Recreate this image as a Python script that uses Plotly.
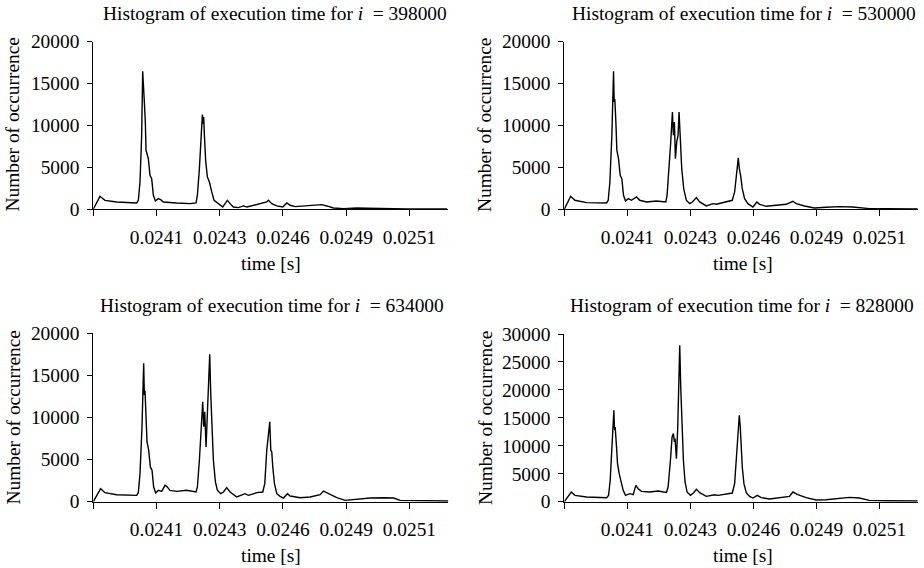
import plotly.graph_objects as go

# ---------------- data (time in seconds, counts) ----------------
t_398000 = [0.0238200, 0.0238474, 0.0238680, 0.0239160, 0.0239984, 0.0240052, 0.0240121, 0.0240189, 0.0240231, 0.0240272,
            0.0240299, 0.0240340, 0.0240368, 0.0240464, 0.0240532, 0.0240601, 0.0240670, 0.0240752, 0.0240875, 0.0240971,
            0.0241081, 0.0241630, 0.0242179, 0.0242426, 0.0242481, 0.0242563, 0.0242632, 0.0242686, 0.0242714, 0.0242741,
            0.0242769, 0.0242824, 0.0242892, 0.0242975, 0.0243071, 0.0243167, 0.0243345, 0.0243523, 0.0243619, 0.0243715,
            0.0243825, 0.0243962, 0.0244168, 0.0244374, 0.0244511, 0.0244786, 0.0245060, 0.0245334, 0.0245403, 0.0245540,
            0.0245746, 0.0245993, 0.0246158, 0.0246295, 0.0246501, 0.0246844, 0.0247255, 0.0247598, 0.0247804, 0.0248078,
            0.0248490, 0.0249039, 0.0249450, 0.0249999, 0.0251097, 0.0252743]
n_398000 = [0, 1550, 1070, 875, 756, 1070, 3260, 8830, 16470, 13210,
            12810, 10420, 7040, 6050, 4060, 3660, 1670, 995, 1270, 1150,
            875, 756, 676, 756, 1670, 4850, 8830, 11300, 10220, 11020,
            8830, 5650, 3860, 3260, 2070, 1070, 676, 278, 676, 1070,
            676, 278, 200, 400, 278, 477, 597, 875, 1070, 676,
            400, 278, 756, 477, 318, 400, 477, 557, 400, 160,
            80, 160, 120, 80, 40, 40]

t_530000 = [0.0238200, 0.0238323, 0.0238461, 0.0238639, 0.0239119, 0.0239942, 0.0240011, 0.0240080, 0.0240162, 0.0240231,
            0.0240258, 0.0240285, 0.0240327, 0.0240368, 0.0240436, 0.0240505, 0.0240574, 0.0240642, 0.0240724, 0.0240834,
            0.0240971, 0.0241177, 0.0241314, 0.0241589, 0.0242000, 0.0242385, 0.0242439, 0.0242522, 0.0242590, 0.0242659,
            0.0242700, 0.0242741, 0.0242782, 0.0242837, 0.0242892, 0.0242933, 0.0242975, 0.0243043, 0.0243125, 0.0243235,
            0.0243372, 0.0243482, 0.0243647, 0.0243784, 0.0244058, 0.0244333, 0.0244470, 0.0244882, 0.0245129, 0.0245225,
            0.0245293, 0.0245376, 0.0245417, 0.0245472, 0.0245540, 0.0245636, 0.0245773, 0.0245979, 0.0246144, 0.0246254,
            0.0246528, 0.0246940, 0.0247351, 0.0247626, 0.0247763, 0.0248106, 0.0248517, 0.0248998, 0.0249546, 0.0250095,
            0.0250507, 0.0250781, 0.0251467, 0.0252771]
n_530000 = [0, 676, 1551, 1074, 796, 756, 1074, 3262, 8831, 16469,
            12809, 13127, 10422, 7041, 6047, 4057, 3660, 1671, 995, 1273,
            1074, 1472, 1074, 875, 995, 875, 1671, 4853, 8036, 11616,
            8831, 10422, 6047, 8036, 8831, 11616, 8831, 4853, 2466, 1074,
            676, 875, 1392, 875, 398, 676, 597, 875, 1074, 2069,
            4057, 6130, 4853, 4057, 2466, 1273, 676, 278, 875, 597,
            358, 477, 597, 955, 676, 398, 159, 239, 318, 278,
            199, 80, 80, 40]

t_634000 = [0.0238200, 0.0238337, 0.0238502, 0.0238680, 0.0239160, 0.0239984, 0.0240052, 0.0240121, 0.0240203, 0.0240272,
            0.0240299, 0.0240327, 0.0240368, 0.0240409, 0.0240478, 0.0240546, 0.0240615, 0.0240683, 0.0240766, 0.0240875,
            0.0241013, 0.0241150, 0.0241218, 0.0241356, 0.0241630, 0.0242042, 0.0242426, 0.0242481, 0.0242563, 0.0242632,
            0.0242700, 0.0242741, 0.0242782, 0.0242837, 0.0242892, 0.0242933, 0.0242988, 0.0243029, 0.0243084, 0.0243139,
            0.0243222, 0.0243304, 0.0243441, 0.0243551, 0.0243688, 0.0243825, 0.0244100, 0.0244443, 0.0244580, 0.0244923,
            0.0245170, 0.0245252, 0.0245334, 0.0245389, 0.0245458, 0.0245499, 0.0245540, 0.0245581, 0.0245650, 0.0245746,
            0.0245883, 0.0246020, 0.0246185, 0.0246295, 0.0246706, 0.0247118, 0.0247530, 0.0247667, 0.0247873, 0.0248216,
            0.0248559, 0.0249039, 0.0249588, 0.0250136, 0.0250548, 0.0250822, 0.0251508, 0.0252812]
n_634000 = [0, 754, 1548, 1072, 834, 754, 1072, 3335, 8893, 16436,
            12664, 13180, 10481, 7106, 6114, 4129, 3732, 1747, 1032, 1350,
            1231, 1945, 1826, 1350, 1231, 1350, 1151, 1747, 4923, 8099,
            11870, 8893, 10679, 6511, 10481, 11672, 17508, 12863, 9290, 4923,
            2342, 1350, 953, 1151, 1667, 1151, 556, 953, 754, 1072,
            1151, 2144, 6114, 7702, 9488, 6114, 5915, 4129, 2144, 953,
            635, 437, 953, 675, 476, 556, 834, 1270, 953, 476,
            159, 278, 437, 476, 437, 159, 159, 79]

t_828000 = [0.0238200, 0.0238323, 0.0238488, 0.0238639, 0.0239119, 0.0239942, 0.0240025, 0.0240093, 0.0240162, 0.0240244,
            0.0240272, 0.0240299, 0.0240354, 0.0240395, 0.0240464, 0.0240532, 0.0240628, 0.0240724, 0.0240903, 0.0241040,
            0.0241150, 0.0241246, 0.0241383, 0.0241726, 0.0242069, 0.0242412, 0.0242481, 0.0242577, 0.0242645, 0.0242700,
            0.0242741, 0.0242769, 0.0242824, 0.0242879, 0.0242920, 0.0242961, 0.0243002, 0.0243057, 0.0243112, 0.0243180,
            0.0243263, 0.0243400, 0.0243537, 0.0243647, 0.0243784, 0.0244058, 0.0244401, 0.0244539, 0.0244882, 0.0245129,
            0.0245225, 0.0245307, 0.0245376, 0.0245417, 0.0245458, 0.0245499, 0.0245540, 0.0245609, 0.0245705, 0.0245842,
            0.0245979, 0.0246158, 0.0246322, 0.0246665, 0.0247077, 0.0247488, 0.0247626, 0.0247831, 0.0248174, 0.0248586,
            0.0248998, 0.0249546, 0.0249958, 0.0250370, 0.0250781, 0.0251467, 0.0252771]
n_828000 = [0, 836, 1731, 1134, 836, 716, 1134, 3821, 10388, 16358,
            12776, 13373, 9791, 6806, 5015, 3821, 2030, 1134, 1433, 1254,
            2925, 2328, 1851, 1731, 1910, 1672, 2627, 7403, 11582, 12179,
            10686, 11283, 7701, 13373, 20537, 27999, 20537, 13373, 7403, 3522,
            1731, 1134, 1612, 2209, 1612, 955, 1254, 1134, 1433, 1552,
            3224, 8597, 13373, 15462, 13373, 9791, 6209, 3224, 1612, 955,
            657, 1134, 716, 478, 657, 955, 1731, 1254, 716, 299,
            358, 657, 776, 657, 239, 179, 119]

run_labels = ["398000", "530000", "634000", "828000"]
x_tick_values = [0.02382, 0.02408, 0.02434, 0.02460, 0.02486, 0.02512]
x_tick_labels = ["", "0.0241", "0.0243", "0.0246", "0.0249", "0.0251"]
y_ticks_20k = [0, 5000, 10000, 15000, 20000]
y_ticks_30k = [0, 5000, 10000, 15000, 20000, 25000, 30000]
x_range = [0.02382, 0.025280]

W, H = 924, 568
FONT = "Liberation Serif, Times New Roman, serif"
FS = 19.4

series = [(t_398000, n_398000), (t_530000, n_530000), (t_634000, n_634000), (t_828000, n_828000)]
y_ticks = [y_ticks_20k, y_ticks_20k, y_ticks_20k, y_ticks_30k]

# panel geometry in pixels: (left, right, top, bottom)
panels = [(93.3, 448.3, 41.7, 209.3), (564.3, 918.3, 41.7, 209.3),
          (93.3, 448.3, 333.3, 501.7), (564.3, 918.3, 334.0, 501.7)]

fig = go.Figure()
layout = dict(width=W, height=H, margin=dict(l=0, r=0, t=0, b=0, pad=0, autoexpand=False),
              paper_bgcolor="white", plot_bgcolor="white", showlegend=False,
              font=dict(family=FONT, size=FS, color="black"))
annotations = []

title_pos = [(275, 14), (744, 14), (272, 305), (742, 305)]
xtitle_pos = [(271, 263), (743, 263), (271, 555), (743, 555)]
ytitle_pos = [(12.5, 125), (485, 125), (12.5, 418), (485, 418)]

for k, ((t, n), yt, (l, r, top, bot)) in enumerate(zip(series, y_ticks, panels)):
    xa = "x" if k == 0 else f"x{k+1}"
    ya = "y" if k == 0 else f"y{k+1}"
    fig.add_trace(go.Scatter(x=t, y=n, mode="lines", xaxis=xa, yaxis=ya,
                             line=dict(color="black", width=1.4), hoverinfo="skip"))
    xkey = "xaxis" if k == 0 else f"xaxis{k+1}"
    ykey = "yaxis" if k == 0 else f"yaxis{k+1}"
    layout[xkey] = dict(domain=[l / W, r / W], anchor=ya, range=x_range,
                        showgrid=False, zeroline=False, showline=True, linecolor="black", linewidth=1,
                        ticks="outside", ticklen=6, tickwidth=1, tickcolor="black",
                        tickmode="array", tickvals=x_tick_values, ticktext=x_tick_labels,
                        ticklabelstandoff=4,
                        tickfont=dict(family=FONT, size=FS, color="black"))
    layout[ykey] = dict(domain=[1 - bot / H, 1 - top / H], anchor=xa, range=[0, yt[-1]],
                        showgrid=False, zeroline=False, showline=True, linecolor="black", linewidth=1,
                        ticks="outside", ticklen=5, tickwidth=1, tickcolor="black",
                        tickmode="array", tickvals=yt, ticktext=[str(v) for v in yt],
                        ticklabelstandoff=4,
                        tickfont=dict(family=FONT, size=FS, color="black"))
    tx, ty = title_pos[k]
    annotations.append(dict(text=f"Histogram of execution time for <i>i</i>&nbsp; = {run_labels[k]}",
                            x=tx / W, y=1 - ty / H, xref="paper", yref="paper",
                            xanchor="center", yanchor="middle", showarrow=False,
                            font=dict(family=FONT, size=FS, color="black")))
    ax, ay = xtitle_pos[k]
    annotations.append(dict(text="time [s]", x=ax / W, y=1 - ay / H, xref="paper", yref="paper",
                            xanchor="center", yanchor="middle", showarrow=False,
                            font=dict(family=FONT, size=FS, color="black")))
    bx, by = ytitle_pos[k]
    annotations.append(dict(text="Number of occurrence", x=bx / W, y=1 - by / H, xref="paper", yref="paper",
                            xanchor="center", yanchor="middle", showarrow=False, textangle=-90,
                            font=dict(family=FONT, size=FS, color="black")))

layout["annotations"] = annotations
fig.update_layout(**layout)
fig.write_html("out.html")
